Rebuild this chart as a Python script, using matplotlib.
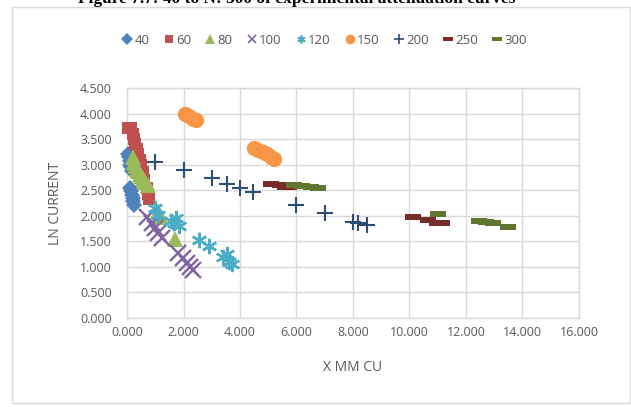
import matplotlib
matplotlib.use("Agg")
import matplotlib.pyplot as plt
from matplotlib.lines import Line2D
from matplotlib.patches import Rectangle

# ---- data ----
x40 = [0.05, 0.08, 0.10, 0.12, 0.15, 0.18, 0.10, 0.14, 0.18, 0.20, 0.22, 0.25]
y40 = [3.20, 3.15, 3.08, 3.00, 2.95, 2.88, 2.55, 2.48, 2.40, 2.35, 2.28, 2.22]

x60 = [0.05, 0.15, 0.20, 0.25, 0.30, 0.35, 0.40, 0.45, 0.50, 0.55, 0.60, 0.70, 0.75, 0.78]
y60 = [3.72, 3.72, 3.60, 3.50, 3.40, 3.30, 3.20, 3.10, 3.00, 2.85, 2.70, 2.55, 2.42, 2.32]

x80 = [0.20, 0.25, 0.30, 0.35, 0.40, 0.45, 0.50, 0.55, 0.60, 0.65, 0.75, 1.10, 1.20, 1.70]
y80 = [3.15, 3.05, 2.98, 2.92, 2.87, 2.82, 2.78, 2.74, 2.70, 2.66, 2.60, 2.10, 1.98, 1.55]

x100 = [0.70, 0.87, 0.99, 1.10, 1.24, 1.81, 1.98, 2.12, 2.23, 2.34]
y100 = [1.98, 1.85, 1.76, 1.66, 1.56, 1.27, 1.17, 1.07, 1.00, 0.94]

x120 = [1.00, 1.10, 1.55, 1.65, 1.75, 1.85, 2.55, 2.90, 3.40, 3.55, 3.60, 3.70]
y120 = [2.15, 2.02, 1.90, 1.85, 1.95, 1.80, 1.52, 1.40, 1.20, 1.25, 1.10, 1.05]

x150 = [2.05, 2.20, 2.35, 2.45, 4.50, 4.65, 4.80, 4.95, 5.10, 5.20]
y150 = [3.99, 3.95, 3.90, 3.88, 3.33, 3.28, 3.24, 3.20, 3.15, 3.12]

x200 = [1.00, 2.00, 3.00, 3.53, 4.00, 4.47, 6.00, 7.00, 7.99, 8.19, 8.51]
y200 = [3.05, 2.89, 2.73, 2.63, 2.55, 2.47, 2.21, 2.05, 1.88, 1.86, 1.82]

x250 = [5.10, 5.40, 5.60, 5.75, 10.14, 10.67, 10.96, 11.14]
y250 = [2.62, 2.60, 2.57, 2.56, 1.98, 1.91, 1.86, 1.85]

x300 = [5.90, 6.20, 6.50, 6.75, 11.02, 12.45, 12.70, 12.95, 13.50]
y300 = [2.61, 2.59, 2.56, 2.54, 2.04, 1.89, 1.87, 1.85, 1.78]

labels = ["40", "60", "80", "100", "120", "150", "200", "250", "300"]
x_ticks = [0, 2, 4, 6, 8, 10, 12, 14, 16]
y_ticks = [0, 0.5, 1.0, 1.5, 2.0, 2.5, 3.0, 3.5, 4.0, 4.5]

# ---- style ----
dash = [(-1, -0.32), (1, -0.32), (1, 0.32), (-1, 0.32)]
styles = [
    dict(marker="D", color="#4F81BD", ms=8, mew=0),
    dict(marker="s", color="#C0504D", ms=9, mew=0),
    dict(marker="^", color="#9BBB59", ms=12, mew=0),
    dict(marker="x", color="#8064A2", ms=11, mew=1.7),
    dict(marker=(6, 2, 0), color="#4BACC6", ms=11, mew=1.7),
    dict(marker="o", color="#F79646", ms=11, mew=0),
    dict(marker="+", color="#2C4D75", ms=12, mew=1.5),
    dict(marker=dash, color="#772C2A", ms=12, mew=0),
    dict(marker=dash, color="#5F7530", ms=12, mew=0),
]
series = [(x40, y40), (x60, y60), (x80, y80), (x100, y100), (x120, y120),
          (x150, y150), (x200, y200), (x250, y250), (x300, y300)]

plt.rcParams["font.family"] = ["Open Sans", "DejaVu Sans"]
W, H = 631, 407
fig = plt.figure(figsize=(W / 100, H / 100), dpi=100)
ax = fig.add_axes([127 / W, 1 - 318 / H, (579 - 127) / W, (318 - 88) / H])

for (xs, ys), st in zip(series, styles):
    ax.plot(xs, ys, linestyle="none", marker=st["marker"], color=st["color"],
            markersize=st["ms"], markeredgewidth=st["mew"], clip_on=False, zorder=3)

ax.set_xlim(0, 16)
ax.set_ylim(0, 4.5)
ax.set_xticks(x_ticks)
ax.set_xticklabels([f"{v:.3f}" for v in x_ticks])
ax.set_yticks(y_ticks)
ax.set_yticklabels([f"{v:.3f}" for v in y_ticks])
ax.grid(True, color="#D9D9D9", linewidth=1.0, zorder=0)
ax.set_axisbelow(True)
for sp in ax.spines.values():
    sp.set_color("#D9D9D9")
    sp.set_linewidth(1.0)
ax.tick_params(axis="both", length=0, labelsize=9, labelcolor="#595959")
ax.tick_params(axis="y", pad=11)
ax.tick_params(axis="x", pad=6)
ax.set_xlabel("X MM CU", fontsize=10, color="#595959", labelpad=15)
ax.set_ylabel("LN CURRENT", fontsize=10, color="#595959", labelpad=12)

# legend
handles = []
leg_sizes = [6, 6, 7, 6, 6, 7, 7, 7, 7]
for st, lab, s in zip(styles, labels, leg_sizes):
    handles.append(Line2D([], [], linestyle="none", marker=st["marker"], color=st["color"],
                          markersize=s, markeredgewidth=min(st["mew"], 1.2), label=lab))
fig.legend(handles=handles, loc="center", bbox_to_anchor=(325 / W, 1 - 40 / H), ncol=9,
           frameon=False, fontsize=9.5, handlelength=0.6, handletextpad=0.25,
           columnspacing=1.15, labelcolor="#595959")

# chart border
fig.add_artist(Rectangle((12 / W, 1 - 403 / H), (630 - 12) / W, (403 - 7) / H,
                         transform=fig.transFigure, fill=False, edgecolor="#D9D9D9",
                         linewidth=1.0))

# caption at very top (partly cut by the page edge in the reference)
fig.text(297 / W, 1 - 3 / H, "Figure 7.7: 40 to N: 300 of experimental attenuation curves",
         ha="center", va="baseline", fontsize=12.5, fontweight="bold",
         family=["Liberation Serif", "DejaVu Serif"], color="#000000")

fig.savefig("out.png", dpi=100)
